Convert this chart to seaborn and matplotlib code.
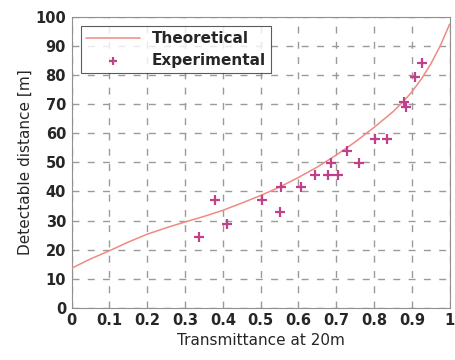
import matplotlib
matplotlib.use("Agg")
import matplotlib.pyplot as plt
import seaborn as sns
import pandas as pd

# Theoretical curve
theo_t = [0.0, 0.05, 0.1, 0.15, 0.2, 0.25, 0.3, 0.35, 0.4, 0.45, 0.5, 0.55,
          0.6, 0.65, 0.7, 0.75, 0.8, 0.85, 0.875, 0.9, 0.925, 0.95, 0.975, 1.0]
theo_d = [13.6, 16.8, 19.6, 22.6, 25.3, 27.5, 29.5, 31.4, 33.5, 36.0, 38.6, 41.5,
          44.8, 48.4, 52.5, 57.0, 62.0, 67.4, 70.6, 74.2, 78.6, 83.8, 90.0, 97.5]

# Experimental points
exp_t = [0.337, 0.380, 0.412, 0.504, 0.554, 0.552, 0.607, 0.644, 0.678, 0.704,
         0.687, 0.729, 0.760, 0.803, 0.834, 0.880, 0.884, 0.908, 0.926]
exp_d = [24.5, 37.0, 28.7, 37.0, 41.7, 33.0, 41.7, 45.6, 45.6, 45.6,
         49.7, 54.0, 49.7, 58.2, 58.2, 70.6, 69.2, 79.3, 84.1]

xticks = [0, 0.1, 0.2, 0.3, 0.4, 0.5, 0.6, 0.7, 0.8, 0.9, 1]
xtick_labels = ["0", "0.1", "0.2", "0.3", "0.4", "0.5", "0.6", "0.7", "0.8", "0.9", "1"]
yticks = [0, 10, 20, 30, 40, 50, 60, 70, 80, 90, 100]

theo = pd.DataFrame({"t": theo_t, "d": theo_d})
exp = pd.DataFrame({"t": exp_t, "d": exp_d})

sns.set_style("white")
plt.rcParams["font.family"] = ["DejaVu Sans"]

fig = plt.figure(figsize=(4.56, 3.6), dpi=100)
ax = fig.add_axes([0.157, 0.145, 0.829, 0.808])

sns.lineplot(data=theo, x="t", y="d", ax=ax, color="#f08a80", linewidth=1.1,
             label="Theoretical", zorder=3)
sns.scatterplot(data=exp, x="t", y="d", ax=ax, marker="+", s=60, color="#c0408a",
                linewidth=1.6, label="Experimental", zorder=4)

ax.set_xlim(0, 1)
ax.set_ylim(0, 100)
ax.set_xticks(xticks)
ax.set_xticklabels(xtick_labels)
ax.set_yticks(yticks)
ax.grid(True, linestyle=(0, (5, 6)), color="#9a9a9a", linewidth=1.0)
ax.set_axisbelow(True)
for s in ax.spines.values():
    s.set_color("#909090")
    s.set_linewidth(0.8)
ax.tick_params(direction="out", length=3, color="#909090", labelsize=10.5, pad=1)
for lab in ax.get_xticklabels() + ax.get_yticklabels():
    lab.set_fontweight("bold")

ax.set_xlabel("Transmittance at 20m", fontsize=11, labelpad=3)
ax.set_ylabel("Detectable distance [m]", fontsize=11, labelpad=2)

leg = ax.legend(loc="upper left", fontsize=11, frameon=True, fancybox=False,
                edgecolor="#333333", handlelength=3.5, borderaxespad=0.6,
                borderpad=0.35, labelspacing=0.4, markerscale=0.8)
leg.get_frame().set_linewidth(0.8)
for t in leg.get_texts():
    t.set_fontweight("bold")

fig.savefig("out.png", dpi=100)
